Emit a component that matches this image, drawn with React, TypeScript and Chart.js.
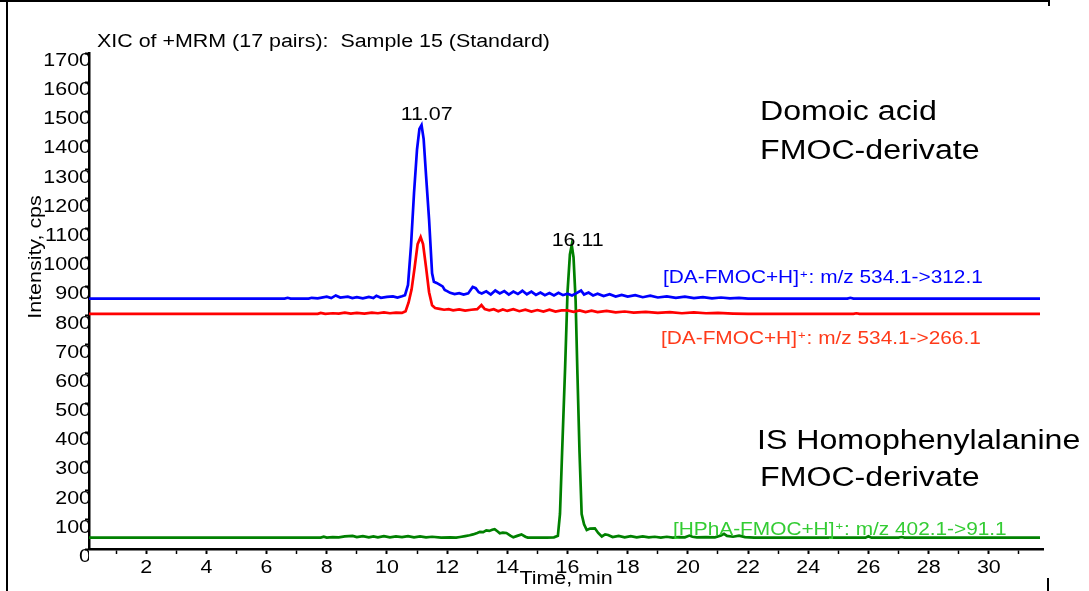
import React, { useEffect, useRef } from "react";
import { Chart, registerables } from "chart.js";

Chart.register(...registerables);

type Pt = [number, number];

// [time (min), intensity (cps)]
const blueTrace: Pt[] = [
  [0.1, 858], [6.6, 858], [6.7, 861], [6.8, 858], [7.4, 858], [7.5, 861], [7.7, 859], [8.0, 865],
  [8.15, 860], [8.3, 869], [8.45, 862], [8.7, 865], [8.85, 860], [9.0, 863], [9.2, 859], [9.4, 864],
  [9.55, 860], [9.65, 868], [9.8, 861], [10.0, 864], [10.2, 866], [10.35, 862], [10.5, 866], [10.6, 870],
  [10.7, 905], [10.8, 1040], [10.9, 1220], [11.0, 1370], [11.08, 1440], [11.15, 1453], [11.22, 1405],
  [11.3, 1280], [11.4, 1130], [11.5, 945], [11.56, 916], [11.65, 912], [11.75, 906], [11.85, 900],
  [11.92, 888], [12.0, 884], [12.1, 878], [12.25, 874], [12.4, 877], [12.55, 872], [12.7, 876],
  [12.85, 898], [12.95, 894], [13.05, 880], [13.15, 876], [13.3, 883], [13.45, 872], [13.6, 886],
  [13.75, 876], [13.9, 884], [14.05, 872], [14.2, 882], [14.35, 874], [14.5, 885], [14.65, 873],
  [14.8, 882], [14.95, 871], [15.1, 879], [15.25, 870], [15.4, 877], [15.55, 869], [15.7, 878],
  [15.85, 870], [16.0, 875], [16.15, 869], [16.3, 877], [16.45, 886], [16.55, 872], [16.7, 879],
  [16.85, 869], [17.0, 875], [17.2, 867], [17.4, 873], [17.6, 865], [17.8, 871], [18.0, 865],
  [18.25, 870], [18.5, 863], [18.75, 868], [19.0, 862], [19.3, 866], [19.6, 861], [19.9, 865],
  [20.2, 860], [20.5, 863], [20.8, 859], [21.1, 862], [21.4, 859], [21.7, 861], [22.0, 858],
  [25.3, 858], [25.4, 861], [25.5, 858], [31.7, 858],
];

const redTrace: Pt[] = [
  [0.1, 806], [7.7, 806], [7.8, 809], [7.95, 806], [8.2, 808], [8.4, 807], [8.6, 810], [8.8, 807],
  [9.0, 809], [9.25, 807], [9.5, 810], [9.7, 808], [9.9, 811], [10.1, 808], [10.3, 810], [10.5, 809],
  [10.62, 815], [10.72, 845], [10.82, 890], [10.92, 965], [11.02, 1045], [11.12, 1069], [11.2, 1045],
  [11.3, 965], [11.4, 880], [11.5, 835], [11.6, 826], [11.75, 823], [11.9, 820], [12.05, 822],
  [12.2, 818], [12.4, 821], [12.6, 817], [12.8, 820], [13.0, 822], [13.14, 836], [13.25, 822],
  [13.4, 818], [13.55, 822], [13.7, 815], [13.85, 821], [14.0, 816], [14.2, 822], [14.4, 815],
  [14.6, 820], [14.8, 814], [15.0, 819], [15.2, 814], [15.4, 820], [15.6, 814], [15.8, 818],
  [16.0, 818], [16.2, 813], [16.4, 818], [16.6, 812], [16.8, 817], [17.0, 812], [17.3, 816],
  [17.6, 811], [17.9, 814], [18.2, 810], [18.6, 813], [19.0, 809], [19.4, 812], [19.8, 808],
  [20.2, 811], [20.6, 808], [21.0, 809], [21.5, 807], [22.0, 806], [25.5, 806], [25.6, 808],
  [25.7, 806], [31.7, 806],
];

const greenTrace: Pt[] = [
  [0.1, 39], [7.8, 39], [7.9, 42], [8.0, 39], [8.2, 41], [8.4, 40], [8.6, 43], [8.86, 45], [9.0, 41],
  [9.2, 44], [9.4, 40], [9.55, 43], [9.7, 40], [9.9, 44], [10.1, 40], [10.3, 43], [10.5, 41],
  [10.7, 44], [10.9, 40], [11.1, 43], [11.3, 40], [11.5, 42], [11.8, 39], [12.1, 40], [12.3, 39],
  [12.43, 41], [12.6, 44], [12.75, 47], [12.86, 50], [13.0, 55], [13.09, 59], [13.2, 58], [13.3, 64],
  [13.4, 62], [13.5, 66], [13.58, 68], [13.68, 60], [13.75, 54], [13.85, 56], [13.97, 55], [14.1, 46],
  [14.2, 40], [14.33, 45], [14.47, 50], [14.6, 42], [14.68, 39], [15.0, 39], [15.3, 39], [15.55, 40],
  [15.68, 45], [15.75, 120], [15.82, 330], [15.92, 620], [16.0, 880], [16.08, 1010], [16.14, 1042],
  [16.2, 1000], [16.27, 850], [16.33, 600], [16.4, 330], [16.47, 120], [16.55, 85], [16.64, 65],
  [16.75, 70], [16.91, 71], [17.02, 55], [17.14, 43], [17.25, 50], [17.35, 48], [17.5, 41],
  [17.7, 45], [17.9, 40], [18.1, 44], [18.3, 40], [18.5, 43], [18.7, 40], [18.9, 42], [19.1, 39],
  [19.3, 42], [19.5, 39], [19.7, 41], [19.9, 40], [20.05, 46], [20.15, 42], [20.3, 40], [20.6, 41],
  [20.9, 40], [21.1, 46], [21.2, 52], [21.3, 45], [21.5, 42], [21.7, 46], [21.9, 41], [22.2, 39],
  [25.9, 39], [26.0, 44], [26.1, 39], [27.0, 39], [27.1, 41], [27.2, 39], [31.7, 39],
];

const xTickValues = [1, 2, 3, 4, 5, 6, 7, 8, 9, 10, 11, 12, 13, 14, 15, 16, 17, 18, 19, 20, 21, 22, 23, 24, 25, 26, 27, 28, 29, 30, 31];
const yTickValues = [0, 100, 200, 300, 400, 500, 600, 700, 800, 900, 1000, 1100, 1200, 1300, 1400, 1500, 1600, 1700];

const peakLabels = [
  { time: 11.12, value: 1453, text: "11.07" },
  { time: 16.14, value: 1042, text: "16.11" },
];

const seriesLabels = [
  { pre: "[DA-FMOC+H]", sup: "+", post: ": m/z 534.1->312.1", color: "#0000FF" },
  { pre: "[DA-FMOC+H]", sup: "+", post: ": m/z 534.1->266.1", color: "#FF3A1A" },
  { pre: "[HPhA-FMOC+H]", sup: "+", post: ": m/z 402.1->91.1", color: "#33CC33" },
];

const compoundLabels = [
  ["Domoic acid", "FMOC-derivate"],
  ["IS Homophenylalanine", "FMOC-derivate"],
];

const titleText = "XIC of +MRM (17 pairs):  Sample 15 (Standard)";
const xTitle = "Time, min";
const yTitle = "Intensity, cps";

const FONT = '"Liberation Sans", Arial, sans-serif';
const SX = 1.19;

export default function App() {
  const ref = useRef<HTMLCanvasElement>(null);

  useEffect(() => {
    const canvas = ref.current!;

    const decorPlugin = {
      id: "decor",
      beforeDraw(chart: any) {
        const ctx = chart.ctx;
        const orig = CanvasRenderingContext2D.prototype.fillText;
        ctx.fillText = function (text: string, x: number, y: number, maxWidth?: number) {
          this.save();
          this.scale(SX, 1);
          if (maxWidth === undefined || maxWidth === null) orig.call(this, text, x / SX, y);
          else orig.call(this, text, x / SX, y, maxWidth / SX);
          this.restore();
        };
      },
      afterDraw(chart: any) {
        const ctx = chart.ctx;
        const xs = chart.scales.x;
        const ys = chart.scales.y;
        ctx.save();
        // frame
        ctx.strokeStyle = "#000";
        ctx.lineWidth = 2;
        ctx.beginPath();
        ctx.moveTo(0, 1);
        ctx.lineTo(1050, 1);
        ctx.moveTo(7, 0);
        ctx.lineTo(7, 591);
        ctx.moveTo(1049, 0);
        ctx.lineTo(1049, 6);
        ctx.moveTo(1048, 578);
        ctx.lineTo(1048, 591);
        ctx.stroke();

        ctx.fillStyle = "#000";
        ctx.textBaseline = "alphabetic";
        ctx.textAlign = "left";
        ctx.font = `18px ${FONT}`;
        ctx.fillText(titleText, 97, 47);

        // y title
        ctx.save();
        ctx.translate(36, 257);
        ctx.rotate(-Math.PI / 2);
        ctx.textAlign = "center";
        ctx.textBaseline = "middle";
        ctx.fillText(yTitle, 0, 0);
        ctx.restore();

        // peak labels
        ctx.textAlign = "center";
        const dys = [-5, 1];
        peakLabels.forEach((p, i) => {
          ctx.fillText(p.text, xs.getPixelForValue(p.time) + 6, ys.getPixelForValue(p.value) + dys[i]);
        });

        // series labels
        ctx.textAlign = "left";
        const pos = [[663, 283], [661, 344], [673, 535]];
        seriesLabels.forEach((s, i) => {
          let [x, y] = pos[i];
          ctx.fillStyle = s.color;
          ctx.font = `17.5px ${FONT}`;
          ctx.fillText(s.pre, x, y);
          x += ctx.measureText(s.pre).width * SX + 1;
          ctx.font = `11px ${FONT}`;
          ctx.fillText(s.sup, x, y - 5);
          x += ctx.measureText(s.sup).width * SX + 1;
          ctx.font = `17.5px ${FONT}`;
          ctx.fillText(s.post, x, y);
        });

        // compound labels
        ctx.fillStyle = "#000";
        ctx.font = `27px ${FONT}`;
        ctx.fillText(compoundLabels[0][0], 760, 120);
        ctx.fillText(compoundLabels[0][1], 760, 159);
        ctx.fillText(compoundLabels[1][0], 757, 449);
        ctx.fillText(compoundLabels[1][1], 760, 486);

        ctx.restore();
        delete ctx.fillText;
      },
    };

    const mk = (pts: Pt[], color: string) => ({
      data: pts.map(([x, y]) => ({ x, y })),
      borderColor: color,
      borderWidth: 2.7,
      pointRadius: 0,
      tension: 0,
      fill: false,
    });

    const chart = new Chart(canvas, {
      type: "line",
      data: {
        datasets: [mk(redTrace, "#FF0000"), mk(blueTrace, "#0000FF"), mk(greenTrace, "#008000")],
      },
      options: {
        animation: false,
        responsive: false,
        devicePixelRatio: 1,
        layout: { padding: { top: 53, right: 46, left: 0, bottom: 0 } },
        plugins: { legend: { display: false }, tooltip: { enabled: false }, title: { display: false } },
        scales: {
          x: {
            type: "linear",
            min: 0.1,
            max: 31.8,
            afterBuildTicks: (s: any) => {
              s.ticks = xTickValues.map((v) => ({ value: v }));
            },
            afterFit: (s: any) => {
              s.height = 42;
            },
            ticks: {
              autoSkip: false,
              maxRotation: 0,
              padding: 3,
              color: "#000",
              font: { family: FONT, size: 18 },
              callback: (v: any) => (Number(v) % 2 === 0 ? String(v) : ""),
            },
            grid: {
              drawOnChartArea: false,
              drawTicks: true,
              tickLength: 5,
              tickColor: "#000",
              tickWidth: (c: any) => (c.tick && c.tick.value % 2 === 0 ? 2 : 1.5),
            },
            border: { display: true, color: "#000", width: 2.5 },
            title: {
              display: true,
              text: xTitle,
              color: "#000",
              font: { family: FONT, size: 18 },
              padding: { top: 0, bottom: 1 },
            },
          },
          y: {
            type: "linear",
            min: 0,
            max: 1700,
            afterBuildTicks: (s: any) => {
              s.ticks = yTickValues.map((v) => ({ value: v }));
            },
            afterFit: (s: any) => {
              s.width = 89;
            },
            ticks: {
              autoSkip: false,
              padding: -6,
              labelOffset: 8,
              color: "#000",
              font: { family: FONT, size: 18 },
              callback: (v: any) => String(v),
            },
            grid: {
              drawOnChartArea: false,
              drawTicks: true,
              tickLength: 4,
              tickColor: "#000",
              tickWidth: 2,
            },
            border: { display: true, color: "#000", width: 2.5 },
          },
        },
      } as any,
      plugins: [decorPlugin],
    });

    return () => chart.destroy();
  }, []);

  return (
    <div style={{ position: "absolute", left: 0, top: 0, width: 1089, height: 591, background: "#fff" }}>
      <canvas ref={ref} width={1089} height={591} style={{ display: "block" }} />
    </div>
  );
}
